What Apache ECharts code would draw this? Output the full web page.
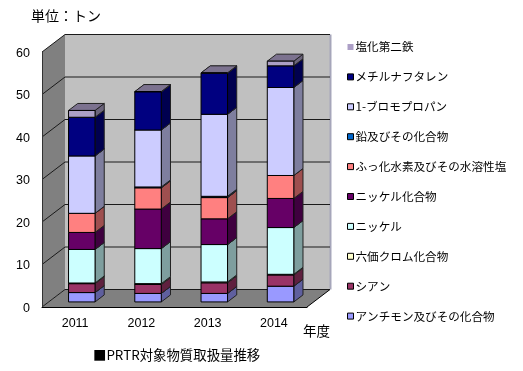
<!DOCTYPE html>
<html>
<head>
<meta charset="utf-8">
<style>
  html, body { margin: 0; padding: 0; background: #fff; }
  #chart { width: 523px; height: 371px; }
</style>
<script src="https://cdn.jsdelivr.net/npm/echarts@6/dist/echarts.min.js"></script>
</head>
<body>
<div id="chart"></div>
<script>
  var years = ['2011', '2012', '2013', '2014']
  var yTicks = [0, 10, 20, 30, 40, 50, 60]

  // bottom to top, same order as the stack
  var names = ['アンチモン及びその化合物', 'シアン', '六価クロム化合物', 'ニッケル', 'ニッケル化合物',
    'ふっ化水素及びその水溶性塩', '鉛及びその化合物', '1-ブロモプロパン', 'メチルナフタレン', '塩化第二鉄']
  var colors = ['#9999ff', '#993366', '#ffffcc', '#ccffff', '#660066',
    '#ff8080', '#0066cc', '#ccccff', '#000080', '#ac9fc6']

  var antimony = [2.2, 2.0, 2.0, 3.7]
  var cyanide = [2.1, 2.1, 2.5, 2.65]
  var chromium = [0.15, 0.2, 0.2, 0.15]
  var nickel = [7.9, 8.25, 8.8, 11.0]
  var nickelComp = [4.0, 9.3, 6.05, 6.85]
  var fluoride = [4.5, 5.0, 5.0, 5.4]
  var lead = [0, 0.2, 0.3, 0]
  var bromopropane = [13.5, 13.4, 19.3, 20.7]
  var methylnaph = [9.1, 9.0, 9.7, 5.1]
  var ferric = [1.6, 0.05, 0.05, 1.1]
  var values = [antimony, cyanide, chromium, nickel, nickelComp, fluoride, lead, bromopropane, methylnaph, ferric]

  // depth of the fake 3d box, px
  var depthX = 23
  var depthY = -17.5
  var barWidthRate = 0.4
  var barNear = 0.29
  var barFar = 0.69

  function shade(hex, k) {
    var n = parseInt(hex.slice(1), 16)
    var r = Math.round((n >> 16) * k)
    var g = Math.round(((n >> 8) & 255) * k)
    var b = Math.round((n & 255) * k)
    return 'rgb(' + r + ',' + g + ',' + b + ')'
  }

  function poly(points, fill, stroke, width) {
    return {
      type: 'polygon',
      shape: { points: points },
      style: { fill: fill, stroke: stroke, lineWidth: width || 0 }
    }
  }

  function renderWalls(params, api) {
    var c = params.coordSys
    var x0 = c.x
    var x1 = c.x + c.width
    var top = c.y
    var bottom = c.y + c.height
    return {
      type: 'group',
      children: [
        poly([[x0 + depthX, top + depthY], [x1 + depthX, top + depthY], [x1 + depthX, bottom + depthY], [x0 + depthX, bottom + depthY]], '#c0c0c0'),
        poly([[x0, top], [x0 + depthX, top + depthY], [x0 + depthX, bottom + depthY], [x0, bottom]], '#808080'),
        poly([[x0, bottom], [x0 + depthX, bottom + depthY], [x1 + depthX, bottom + depthY], [x1, bottom]], '#808080'),
        {
          type: 'line',
          shape: { x1: x1, y1: bottom, x2: x1 + depthX, y2: bottom + depthY },
          style: { stroke: '#000', lineWidth: 1 }
        },
        {
          type: 'line',
          shape: { x1: x1 + depthX + 0.5, y1: top + depthY, x2: x1 + depthX + 0.5, y2: bottom + depthY },
          style: { stroke: '#a6a6ba', lineWidth: 2 }
        }
      ]
    }
  }

  function renderGrid(params, api) {
    var c = params.coordSys
    var y = api.coord([0, api.value(0)])[1]
    return {
      type: 'polyline',
      shape: { points: [[c.x, y], [c.x + depthX, y + depthY], [c.x + c.width + depthX, y + depthY]] },
      style: { fill: 'none', stroke: '#1a1a1a', lineWidth: 1 }
    }
  }

  function renderBar(color) {
    return function (params, api) {
      if (api.value(2) <= api.value(1)) return null
      var band = api.size([1, 0])[0]
      var w = band * barWidthRate
      var low = api.coord([api.value(0), api.value(1)])
      var high = api.coord([api.value(0), api.value(2)])
      var nx = depthX * barNear
      var ny = depthY * barNear
      var fx = depthX * (barFar - barNear)
      var fy = depthY * (barFar - barNear)
      var l = low[0] - w / 2 + nx
      var r = l + w
      var yb = low[1] + ny
      var yt = high[1] + ny
      return {
        type: 'group',
        children: [
          poly([[r, yb], [r + fx, yb + fy], [r + fx, yt + fy], [r, yt]], shade(color, 0.62), '#222', 1),
          poly([[l, yt], [r, yt], [r + fx, yt + fy], [l + fx, yt + fy]], shade(color, 0.72), '#222', 1),
          poly([[l, yb], [r, yb], [r, yt], [l, yt]], color, '#000', 1)
        ]
      }
    }
  }

  var series = [
    { type: 'custom', silent: true, clip: false, renderItem: renderWalls, data: [[0]], encode: { y: 0 } },
    { type: 'custom', silent: true, clip: false, renderItem: renderGrid, data: yTicks.map(function (t) { return [t] }), encode: { y: 0 } }
  ]
  names.forEach(function (name, i) {
    var data = years.map(function (y, k) {
      var base = 0
      for (var s = 0; s < i; s++) base += values[s][k]
      return [k, base, base + values[i][k]]
    })
    series.push({
      name: name,
      type: 'custom',
      silent: true,
      clip: false,
      renderItem: renderBar(colors[i]),
      itemStyle: { color: colors[i] },
      encode: { x: 0, y: [1, 2] },
      data: data
    })
  })

  var legendData = names.slice().reverse().map(function (name) {
    // the top entry has no outline in the original
    if (name === '塩化第二鉄') return { name: name, itemStyle: { borderWidth: 0 } }
    return { name: name }
  })

  var chart = echarts.init(document.getElementById('chart'), null, { renderer: 'canvas' })
  var jp = '"Noto Sans CJK JP", sans-serif'
  var latin = '"Liberation Sans", Arial, sans-serif'

  chart.setOption({
    animation: false,
    backgroundColor: '#fff',
    grid: { left: 42, top: 52, width: 265, height: 255 },
    xAxis: {
      type: 'category',
      data: years,
      z: 10,
      axisLine: { lineStyle: { color: '#000', width: 1 } },
      axisTick: { inside: true, length: 5, alignWithLabel: false, lineStyle: { color: '#000' } },
      axisLabel: { margin: 10, fontFamily: latin, fontSize: 12.5, color: '#000' }
    },
    yAxis: {
      type: 'value',
      min: 0,
      max: 60,
      interval: 10,
      z: 10,
      axisLine: { show: true, lineStyle: { color: '#333', width: 1 } },
      axisTick: { show: false },
      splitLine: { show: false },
      axisLabel: { margin: 12, verticalAlign: 'top', padding: [-5, 0, 0, 0], fontFamily: latin, fontSize: 12.5, color: '#000' }
    },
    legend: {
      orient: 'vertical',
      left: 347,
      top: 38,
      padding: 0,
      itemWidth: 6,
      itemHeight: 6,
      itemGap: 11.9,
      icon: 'rect',
      selectedMode: false,
      textStyle: { fontFamily: jp, fontSize: 11.6, color: '#000', padding: [0, 0, 0, -3], lineHeight: 18 },
      itemStyle: { borderColor: '#000', borderWidth: 1 },
      data: legendData
    },
    graphic: [
      { type: 'text', left: 31, top: 9, style: { text: '単位：トン', font: '14px ' + jp, fill: '#000' } },
      { type: 'text', left: 303, top: 324, style: { text: '年度', font: '13.5px ' + jp, fill: '#000' } },
      { type: 'text', left: 93, top: 348, style: { text: '■PRTR対象物質取扱量推移', font: '13.4px ' + jp, fill: '#000' } }
    ],
    series: series
  })
</script>
</body>
</html>
